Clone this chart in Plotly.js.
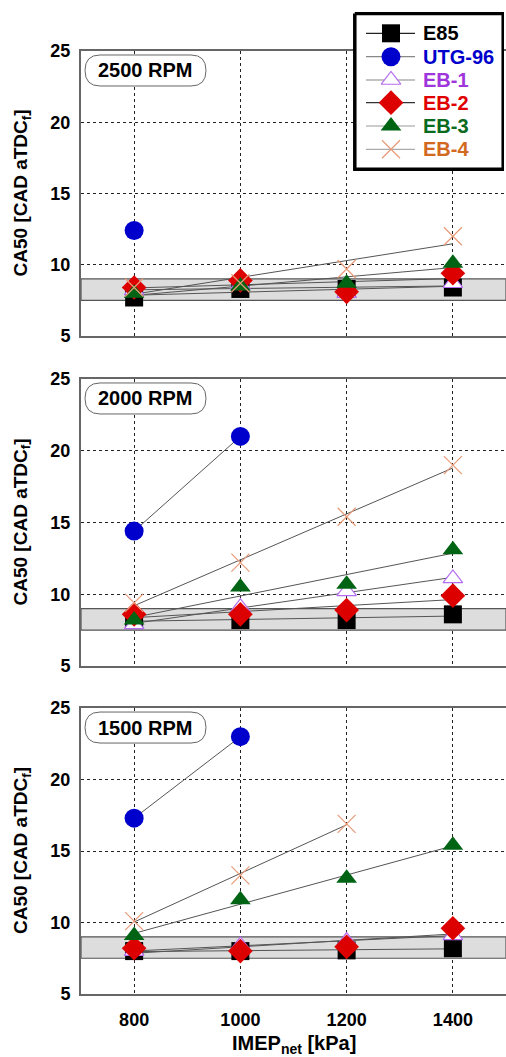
<!DOCTYPE html>
<html>
<head>
<meta charset="utf-8">
<script src="https://cdn.plot.ly/plotly-3.0.1.min.js"></script>
<style>html,body{margin:0;padding:0;background:#fff;}#chart{width:506px;height:1057px;}</style>
</head>
<body>
<div id="chart"></div>
<script>
// ---------------- data ----------------
const imep = [800, 1000, 1200, 1400];
const rpmLabels = ['2500 RPM', '2000 RPM', '1500 RPM'];
const fuels = ['E85', 'UTG-96', 'EB-1', 'EB-2', 'EB-3', 'EB-4'];

// 2500 RPM
const e85_2500 = [7.7, 8.3, 8.3, 8.4];
const utg_2500 = [12.4, null, null, null];
const eb1_2500 = [8.2, 8.6, 8.0, 8.7];
const eb2_2500 = [8.4, 8.9, 8.1, 9.4];
const eb3_2500 = [8.0, 8.5, 8.7, 10.1];
const eb4_2500 = [8.4, 8.7, 9.7, 12.0];

// 2000 RPM
const e85_2000 = [8.2, 8.2, 8.2, 8.6];
const utg_2000 = [14.4, 21.0, null, null];
const eb1_2000 = [7.9, 9.1, 10.2, 11.1];
const eb2_2000 = [8.6, 8.6, 8.9, 9.9];
const eb3_2000 = [8.2, 10.5, 10.7, 13.1];
const eb4_2000 = [9.4, 12.2, 15.4, 19.0];

// 1500 RPM
const e85_1500 = [8.0, 8.0, 8.05, 8.2];
const utg_1500 = [17.3, 23.0, null, null];
const eb1_1500 = [8.0, 8.4, 8.7, 9.1];
const eb2_1500 = [8.2, 8.0, 8.3, 9.6];
const eb3_1500 = [9.1, 11.6, 13.1, 15.4];
const eb4_1500 = [10.1, 13.3, 16.9, null];

// reference band (CA50 target window)
const bandX = [700, 1500];
const bandY = [7.5, 9.0];

// ---------------- styles ----------------
const panelSeries = [
  [e85_2500, utg_2500, eb1_2500, eb2_2500, eb3_2500, eb4_2500],
  [e85_2000, utg_2000, eb1_2000, eb2_2000, eb3_2000, eb4_2000],
  [e85_1500, utg_1500, eb1_1500, eb2_1500, eb3_1500, eb4_1500]
];
const textColors = ['#000000', '#0000cc', '#a035dc', '#e00000', '#0a6a1e', '#d2691e'];
const legendLineColors = ['#222222', '#888888', '#888888', '#333333', '#999999', '#aaaaaa'];
const markerStyles = [
  {symbol: 'square', size: 18, color: '#000000', line: {width: 0}},
  {symbol: 'circle', size: 19, color: '#0000cc', line: {width: 0}},
  {symbol: 'triangle-up', size: 17, color: '#ffffff', line: {width: 1.2, color: '#b46cf0'}},
  {symbol: 'diamond', size: 19, color: '#dd0000', line: {width: 0}},
  {symbol: 'triangle-up', size: 18, color: '#006414', line: {width: 0}},
  {symbol: 'x-thin-open', size: 18, color: '#e89a78', line: {width: 1.2, color: '#e89a78'}}
];

// layout geometry (plot area spans y 12..994 px)
const domains = [[0.6701, 0.9603], [0.3340, 0.6263], [0.0, 0.2912]];
const legendDomX = [0.64, 0.9953];
const legendDomY = [0.8381, 1.0];
const FONT = 'Liberation Sans, Arial, sans-serif';

function fitLine(xs, ys) {
  const px = [], py = [];
  xs.forEach((x, i) => { if (ys[i] !== null && ys[i] !== undefined) { px.push(x); py.push(ys[i]); } });
  if (px.length < 2) return null;
  const n = px.length;
  const mx = px.reduce((a, b) => a + b, 0) / n;
  const my = py.reduce((a, b) => a + b, 0) / n;
  let sxy = 0, sxx = 0;
  for (let i = 0; i < n; i++) { sxy += (px[i] - mx) * (py[i] - my); sxx += (px[i] - mx) * (px[i] - mx); }
  const b = sxy / sxx;
  const x0 = Math.min(...px), x1 = Math.max(...px);
  return {x: [x0, x1], y: [my + b * (x0 - mx), my + b * (x1 - mx)]};
}

const traces = [];
panelSeries.forEach((series, p) => {
  const xa = p === 0 ? 'x' : 'x' + (p + 1);
  const ya = p === 0 ? 'y' : 'y' + (p + 1);
  traces.push({x: [bandX[0], bandX[1], bandX[1], bandX[0], bandX[0]],
    y: [bandY[0], bandY[0], bandY[1], bandY[1], bandY[0]],
    xaxis: xa, yaxis: ya, mode: 'lines', fill: 'toself', fillcolor: '#dcdddc',
    line: {color: '#555555', width: 1.2}, showlegend: false, hoverinfo: 'skip'});
  series.forEach((ys) => {
    const fl = fitLine(imep, ys);
    if (fl) {
      traces.push({x: fl.x, y: fl.y, xaxis: xa, yaxis: ya, mode: 'lines', showlegend: false,
        hoverinfo: 'skip', line: {color: '#555555', width: 1}});
    }
  });
  series.forEach((ys, f) => {
    traces.push({x: imep, y: ys, xaxis: xa, yaxis: ya, mode: 'markers', showlegend: false,
      name: fuels[f], marker: markerStyles[f]});
  });
});

// ---------------- legend (own overlay axes, pixel-like units) ----------------
const legendBox = {x0: 354.8, x1: 503.2, y0: 13.5, y1: 169.2};
const legendRowY = [33.3, 56.7, 80, 102.7, 126, 149.3];
const legendLineX = [366, 415];
const legendMarkerX = 391;
const legendTextX = 422;
traces.push({x: [legendBox.x0, legendBox.x1, legendBox.x1, legendBox.x0, legendBox.x0],
  y: [legendBox.y0, legendBox.y0, legendBox.y1, legendBox.y1, legendBox.y0],
  xaxis: 'x4', yaxis: 'y4', mode: 'lines', fill: 'toself', fillcolor: '#ffffff',
  line: {color: '#000000', width: 3.5}, showlegend: false, hoverinfo: 'skip'});
const annotations = [];
fuels.forEach((name, f) => {
  traces.push({x: legendLineX, y: [legendRowY[f], legendRowY[f]], xaxis: 'x4', yaxis: 'y4',
    mode: 'lines', line: {color: legendLineColors[f], width: 1.2}, showlegend: false, hoverinfo: 'skip'});
  traces.push({x: [legendMarkerX], y: [legendRowY[f]], xaxis: 'x4', yaxis: 'y4',
    mode: 'markers', marker: markerStyles[f], showlegend: false, hoverinfo: 'skip'});
  annotations.push({xref: 'x4', yref: 'y4', x: legendTextX, y: legendRowY[f], xanchor: 'left',
    yanchor: 'middle', showarrow: false, text: name, borderpad: 0,
    font: {family: FONT, size: 20, color: textColors[f], weight: 'bold'}});
});

const axisX = (showLabels) => ({
  range: [700, 1500], tick0: 800, dtick: 200, showgrid: true, gridcolor: '#222', gridwidth: 1,
  griddash: '3px,3px', zeroline: false, showline: true, linecolor: '#666', linewidth: 2,
  mirror: true, ticks: '', showticklabels: showLabels, ticklabelstandoff: 8,
  tickfont: {family: FONT, size: 18, color: '#000', weight: 'bold'}
});
const axisY = (dom) => ({
  domain: dom, range: [5, 25], tick0: 5, dtick: 5, showgrid: true, gridcolor: '#222', gridwidth: 1,
  griddash: '3px,3px', zeroline: false, showline: true, linecolor: '#666', linewidth: 2,
  mirror: false, ticks: '', ticklabelstandoff: 5,
  tickfont: {family: FONT, size: 18, color: '#000', weight: 'bold'}
});

const shapes = [];
rpmLabels.forEach((label, p) => {
  const xa = p === 0 ? 'x' : 'x' + (p + 1);
  const ya = p === 0 ? 'y' : 'y' + (p + 1);
  shapes.push({type: 'path', xref: xa, yref: ya, xsizemode: 'pixel', ysizemode: 'pixel',
    xanchor: 700, yanchor: 25,
    path: 'M 19,-4 H 110 Q 125,-4 125,-19.5 Q 125,-35 110,-35 H 19 Q 4,-35 4,-19.5 Q 4,-4 19,-4 Z',
    fillcolor: '#ffffff', line: {color: '#666', width: 1}, layer: 'above'});
  annotations.push({xref: xa, yref: ya, x: 700, y: 25, xshift: 64.5, yshift: -19.5,
    xanchor: 'center', yanchor: 'middle', showarrow: false, text: label,
    font: {family: FONT, size: 20, color: '#000', weight: 'bold'}});
  annotations.push({xref: 'paper', yref: 'paper', x: 0, xshift: -59,
    y: (domains[p][0] + domains[p][1]) / 2, xanchor: 'center', yanchor: 'middle',
    textangle: -90, showarrow: false, text: 'CA50 [CAD aTDC<sub>f</sub>]',
    font: {family: FONT, size: 19, color: '#000', weight: 'bold'}});
});
annotations.push({xref: 'paper', yref: 'paper', x: 0.5, y: 0, yshift: -50, xanchor: 'center',
  yanchor: 'middle', showarrow: false, text: 'IMEP<sub>net</sub> [kPa]',
  font: {family: FONT, size: 20, color: '#000', weight: 'bold'}});

const hiddenAxis = {visible: false, showgrid: false, zeroline: false, showline: false, fixedrange: true};
const layout = {
  width: 506, height: 1057,
  margin: {l: 81, r: 0, t: 12, b: 63},
  paper_bgcolor: '#fff', plot_bgcolor: 'rgba(0,0,0,0)',
  showlegend: false,
  xaxis: Object.assign(axisX(false), {anchor: 'y'}),
  xaxis2: Object.assign(axisX(false), {anchor: 'y2'}),
  xaxis3: Object.assign(axisX(true), {anchor: 'y3'}),
  yaxis: Object.assign(axisY(domains[0]), {anchor: 'x'}),
  yaxis2: Object.assign(axisY(domains[1]), {anchor: 'x2'}),
  yaxis3: Object.assign(axisY(domains[2]), {anchor: 'x3'}),
  xaxis4: Object.assign({}, hiddenAxis, {domain: legendDomX, range: [353, 504], anchor: 'y4'}),
  yaxis4: Object.assign({}, hiddenAxis, {domain: legendDomY, range: [171, 12], anchor: 'x4'}),
  shapes: shapes,
  annotations: annotations
};

Plotly.newPlot('chart', traces, layout, {displayModeBar: false, staticPlot: true});
</script>
</body>
</html>
